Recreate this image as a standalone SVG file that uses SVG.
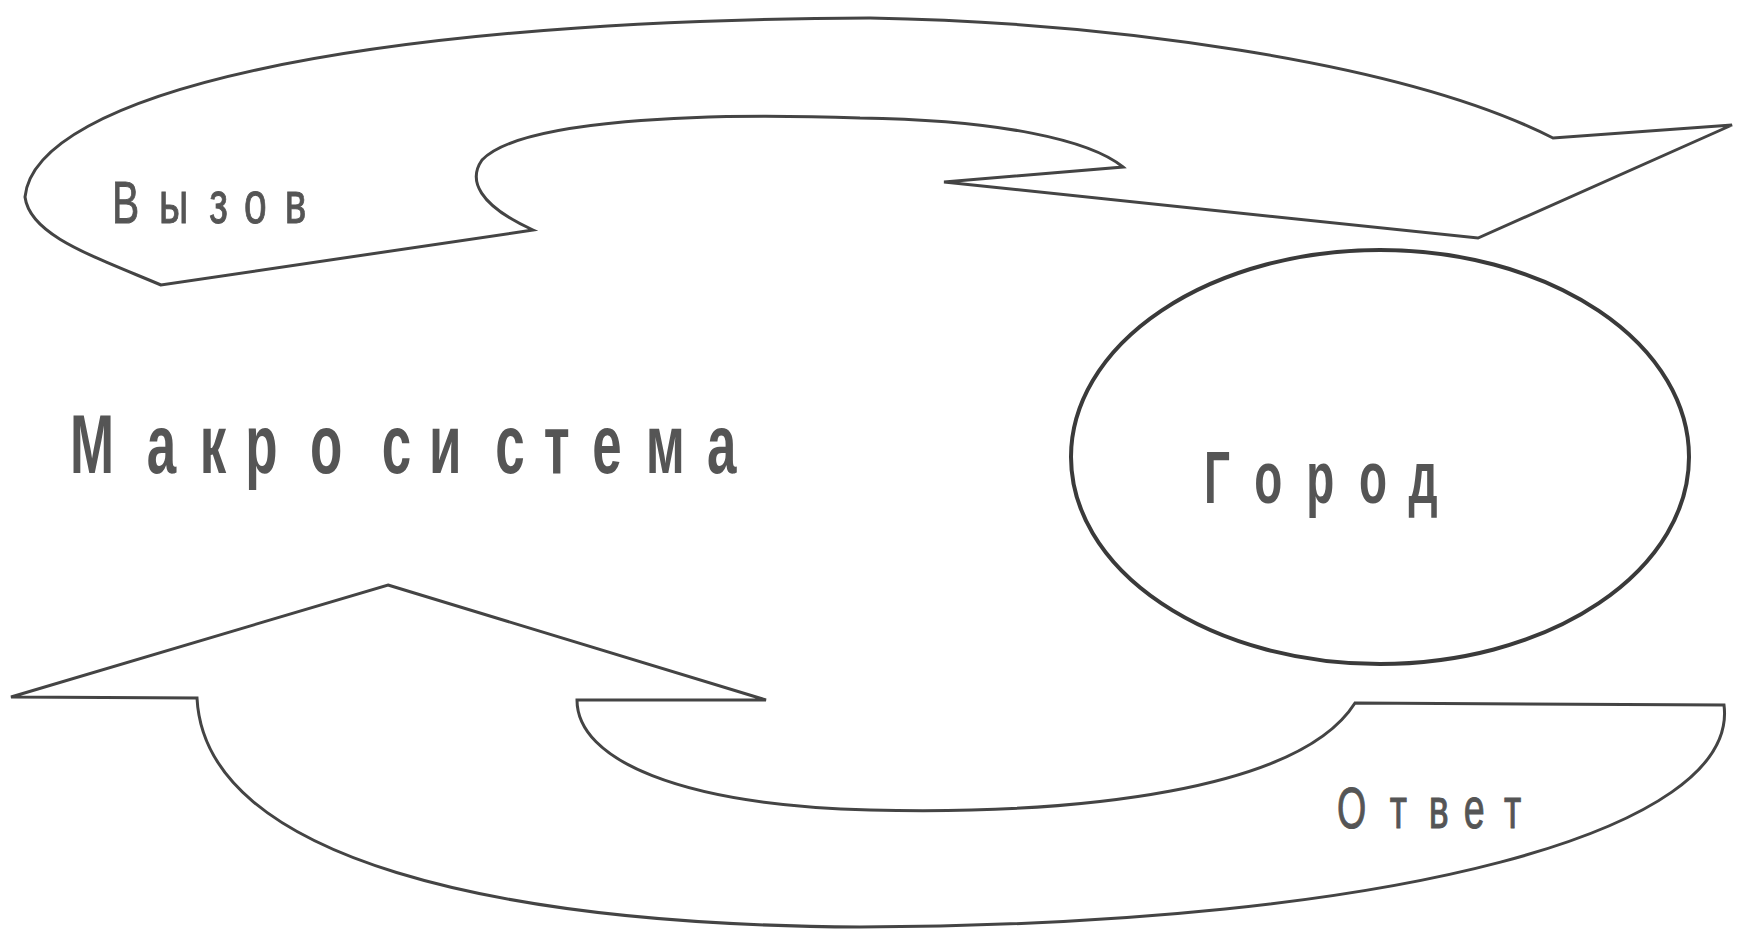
<svg xmlns="http://www.w3.org/2000/svg" width="1737" height="933" viewBox="0 0 1737 933">
<style>
.arrow{fill:none;stroke:#444;stroke-width:3;stroke-linejoin:miter}
.lbl{font-family:"Liberation Sans",Arial,sans-serif;fill:#555}
.sm{stroke:#555;stroke-width:1}
.node{fill:none;stroke:#3a3a3a;stroke-width:4}
</style>
<rect width="1737" height="933" fill="#fff"/>
<g id="connectors">
<g id="call">
<path class="arrow" d="M25,197 C35,95 350,20 870,18 C1100,22 1400,60 1553,138 L1732,125 L1478,238 L944,182 L1123,167 C1090,140 1000,120 860,118 C700,112 520,120 482,160 C468,180 478,205 533,230 L161,285 C90,255 30,235 25,197 Z"/>
<text class="lbl sm" font-size="60" transform="translate(112,223) scale(0.68,1)" x="0 69 143 194 254" y="0">Вызов</text>
</g>
<g id="answer">
<path class="arrow" d="M388,585 L766,700 L577,700 C577,760 680,805 870,810 C1080,815 1300,790 1355,703 L1724,705 C1740,830 1400,925 860,927 C500,925 205,860 197,698 L11,697 Z"/>
<text class="lbl sm" font-size="57" transform="translate(1337,828) scale(0.66,1)" x="0 80 139 192 253" y="0">Ответ</text>
</g>
</g>
<g id="makrosistema">
<text class="lbl" font-size="84" font-weight="bold" fill="#4a4a4a" transform="translate(70,473) scale(0.63,1)" x="0 122 206 278 381 495 570 675 752 829 914 1011" y="0">Макросистема</text>
</g>
<g id="gorod">
<ellipse class="node" cx="1380" cy="457" rx="309" ry="207"/>
<text class="lbl" font-size="74" font-weight="bold" fill="#444" transform="translate(1204,503) scale(0.62,1)" x="0 81 165 250 330" y="0">Город</text>
</g>
</svg>
